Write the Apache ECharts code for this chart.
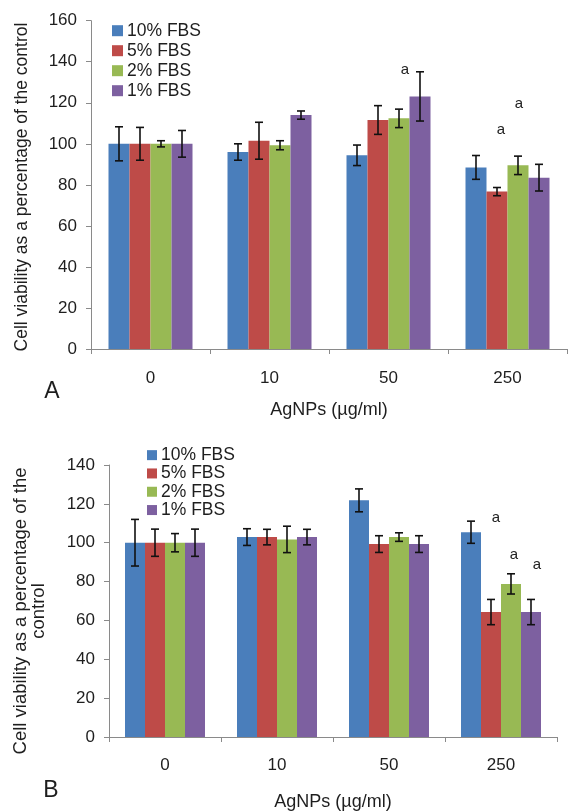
<!DOCTYPE html>
<html>
<head>
<meta charset="utf-8">
<title>Cell viability vs AgNPs</title>
<script src="https://cdn.jsdelivr.net/npm/echarts@6.0.0/dist/echarts.min.js"></script>
<style>
  html, body { margin: 0; padding: 0; background: #ffffff; }
  #chart { width: 569px; height: 812px; }
</style>
</head>
<body>
<div id="chart"></div>
<script>
// Doses on the x axis
const doses = ['0', '10', '50', '250'];
const seriesNames = ['10% FBS', '5% FBS', '2% FBS', '1% FBS'];

// Panel A: viability (% of control) and error
const a10 = [100, 96, 94.4, 88.5];
const a5 = [100, 101.5, 111.6, 76.7];
const a2 = [100, 99.3, 112.4, 89.5];
const a1 = [100, 114, 123.1, 83.5];
const a10Err = [8.3, 4, 5, 5.8];
const a5Err = [8, 9, 7, 2];
const a2Err = [1.5, 2.2, 4.5, 4.5];
const a1Err = [6.5, 2, 12, 6.5];

// Panel B: viability (% of control) and error
const b10 = [100, 102.9, 121.8, 105.4];
const b5 = [100, 102.9, 99.3, 64.3];
const b2 = [100, 101.7, 102.9, 78.8];
const b1 = [100, 102.9, 99.3, 64.3];
const b10Err = [12, 4.3, 5.9, 5.7];
const b5Err = [7, 4, 4.3, 6.5];
const b2Err = [4.7, 6.8, 2.2, 5.2];
const b1Err = [7, 4, 4.3, 6.5];

// Significance letters: dose index, series index, height in axis units
const sigA = [[2, 3, 136], [3, 1, 106.7], [3, 2, 119.4]];
const sigB = [[3, 1, 112.7], [3, 2, 93.6], [3, 3, 88.5]];
const sigNudgeA = [-15, 4, 1];
const sigNudgeB = [5, 3, 6];

const colors = ['#4A7EBB', '#BE4B48', '#98B954', '#7D60A0'];
const FONT = '"Liberation Sans", Arial, sans-serif';
const TXT = '#1e1e1e';
const AXIS = '#8a8a8a';
const BAR_W = [21, 20];

function barSeries(gi, vals) {
  return vals.map((v, s) => ({
    name: seriesNames[s],
    type: 'bar',
    xAxisIndex: gi,
    yAxisIndex: gi,
    data: v,
    barWidth: BAR_W[gi],
    barGap: '0%',
    itemStyle: { color: colors[s] },
    silent: true
  }));
}

function errorSeries(gi, vals, errs) {
  const data = [];
  vals.forEach((v, s) => v.forEach((val, c) => data.push([c, val, errs[s][c], s])));
  const bw = BAR_W[gi];
  return {
    type: 'custom',
    xAxisIndex: gi,
    yAxisIndex: gi,
    z: 5,
    silent: true,
    encode: { x: 0, y: 1 },
    data: data,
    renderItem: function (params, api) {
      const c = api.value(0), v = api.value(1), e = api.value(2), s = api.value(3);
      const x = api.coord([c, v])[0] + (s - 1.5) * bw;
      const yT = api.coord([c, v + e])[1];
      const yB = api.coord([c, v - e])[1];
      const st = { stroke: '#111', lineWidth: 1.6 };
      return {
        type: 'group',
        children: [
          { type: 'line', shape: { x1: x, y1: yT, x2: x, y2: yB }, style: st },
          { type: 'line', shape: { x1: x - 4, y1: yT, x2: x + 4, y2: yT }, style: st },
          { type: 'line', shape: { x1: x - 4, y1: yB, x2: x + 4, y2: yB }, style: st }
        ]
      };
    }
  };
}

function sigSeries(gi, sig, nudge) {
  const bw = BAR_W[gi];
  return {
    type: 'custom',
    xAxisIndex: gi,
    yAxisIndex: gi,
    z: 6,
    silent: true,
    encode: { x: 0, y: 2 },
    data: sig.map((d, i) => [d[0], d[1], d[2], nudge[i]]),
    renderItem: function (params, api) {
      const p = api.coord([api.value(0), api.value(2)]);
      const x = p[0] + (api.value(1) - 1.5) * bw + api.value(3);
      return {
        type: 'text',
        x: x,
        y: p[1],
        style: {
          text: 'a', fill: '#222', font: '15px ' + FONT,
          textAlign: 'center', textVerticalAlign: 'middle'
        }
      };
    }
  };
}

function xAxis(gi, margin, gap) {
  return {
    type: 'category',
    gridIndex: gi,
    data: doses,
    boundaryGap: true,
    axisLine: { show: true, lineStyle: { color: AXIS, width: 1 } },
    axisTick: { show: true, alignWithLabel: false, length: 5, lineStyle: { color: AXIS } },
    axisLabel: { margin: margin, color: TXT, fontSize: 17, fontFamily: FONT },
    splitLine: { show: false },
    name: 'AgNPs (µg/ml)',
    nameLocation: 'middle',
    nameGap: gap,
    nameTextStyle: { color: TXT, fontSize: 18, fontFamily: FONT }
  };
}

function yAxis(gi, max) {
  return {
    type: 'value',
    gridIndex: gi,
    min: 0,
    max: max,
    interval: 20,
    axisLine: { show: true, lineStyle: { color: AXIS, width: 1 } },
    axisTick: { show: true, length: 5, lineStyle: { color: AXIS } },
    axisLabel: { margin: 14, color: TXT, fontSize: 17, fontFamily: FONT },
    splitLine: { show: false }
  };
}

function legend(left, top, icon, lh) {
  return {
    orient: 'vertical',
    left: left,
    top: top,
    itemWidth: icon,
    itemHeight: icon,
    itemGap: 0,
    icon: 'rect',
    data: seriesNames,
    selectedMode: false,
    padding: 0,
    textStyle: { color: TXT, fontSize: 17.5, fontFamily: FONT, lineHeight: lh, padding: [0, 0, 0, -1] }
  };
}

const chart = echarts.init(document.getElementById('chart'), null, { renderer: 'canvas' });

chart.setOption({
  animation: false,
  backgroundColor: '#ffffff',
  grid: [
    { left: 91, right: 2, top: 20.7, bottom: 463, containLabel: false },
    { left: 109, right: 12, top: 465, bottom: 71, containLabel: false }
  ],
  xAxis: [xAxis(0, 21, 52), xAxis(1, 20, 56)],
  yAxis: [yAxis(0, 160), yAxis(1, 140)],
  legend: [legend(112, 20.7, 11, 20), legend(147, 446, 10, 18.3)],
  series: [].concat(
    barSeries(0, [a10, a5, a2, a1]),
    [errorSeries(0, [a10, a5, a2, a1], [a10Err, a5Err, a2Err, a1Err]), sigSeries(0, sigA, sigNudgeA)],
    barSeries(1, [b10, b5, b2, b1]),
    [errorSeries(1, [b10, b5, b2, b1], [b10Err, b5Err, b2Err, b1Err]), sigSeries(1, sigB, sigNudgeB)]
  ),
  graphic: [
    {
      type: 'text', x: 22, y: 187, rotation: Math.PI / 2,
      style: {
        text: 'Cell viability as a percentage of the control',
        fill: TXT, font: '17.5px ' + FONT, textAlign: 'center', textVerticalAlign: 'middle'
      }
    },
    {
      type: 'text', x: 30, y: 611, rotation: Math.PI / 2,
      style: {
        text: 'Cell viability as a percentage of the\ncontrol',
        fill: TXT, font: '18.5px ' + FONT, lineHeight: 18,
        textAlign: 'center', textVerticalAlign: 'middle'
      }
    },
    {
      type: 'text', x: 52, y: 392,
      style: { text: 'A', fill: TXT, font: '23px ' + FONT, textAlign: 'center', textVerticalAlign: 'middle' }
    },
    {
      type: 'text', x: 51, y: 791,
      style: { text: 'B', fill: TXT, font: '23px ' + FONT, textAlign: 'center', textVerticalAlign: 'middle' }
    }
  ]
});
</script>
</body>
</html>
